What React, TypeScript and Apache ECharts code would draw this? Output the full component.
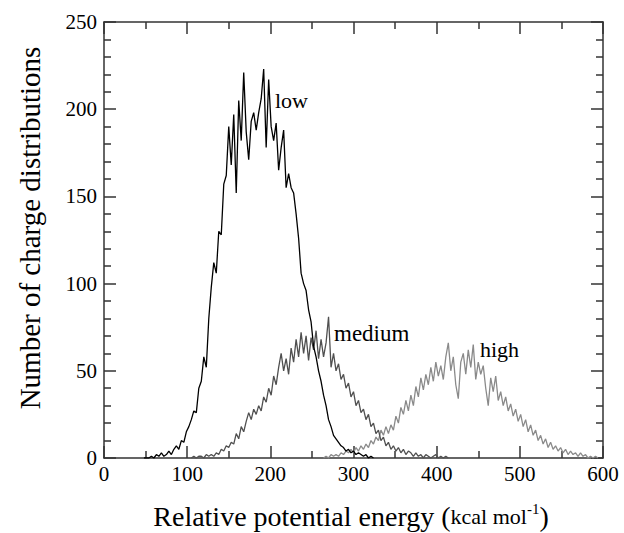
import React, { useEffect, useRef } from "react";
import * as echarts from "echarts";

// Histogram bins (kcal/mol), counts
const binStep = 3;
const lowStart = 48;
const lowCounts = [
  0, 0, 0, 1, 0, 2, 1, 3, 1, 2, 4, 2, 5, 7, 5, 10, 9, 15, 18, 22, 27, 26, 40, 44, 58, 52, 80, 98, 112, 106,
  130, 128, 157, 162, 190, 168, 197, 152, 205, 182, 221, 187, 171, 193, 198, 188, 198, 206, 223, 178, 217,
  190, 182, 192, 165, 178, 188, 155, 163, 155, 152, 140, 126, 106, 100, 96, 85, 78, 64, 58, 50, 44, 36, 30,
  22, 18, 13, 11, 9, 7, 6, 4, 5, 3, 4, 2, 3, 2, 1, 2, 0, 1, 0,
];
const mediumStart = 105;
const mediumCounts = [
  0, 1, 0, 1, 1, 0, 2, 1, 2, 1, 3, 2, 5, 4, 7, 6, 9, 8, 14, 11, 18, 15, 21, 26, 22, 28, 25, 30, 27, 35, 32,
  40, 36, 47, 42, 52, 60, 50, 57, 48, 63, 55, 68, 58, 72, 60, 70, 56, 69, 62, 73, 57, 68, 58, 66, 81, 52, 60,
  50, 54, 45, 48, 40, 43, 35, 38, 30, 33, 26, 28, 22, 25, 18, 20, 14, 16, 10, 12, 7, 9, 5, 7, 4, 6, 3, 5, 2,
  4, 3, 1, 3, 1, 2, 0, 2, 1, 0, 1, 2, 0, 1, 0, 1, 0,
];
const highStart = 264;
const highCounts = [
  0, 1, 0, 2, 1, 2, 1, 3, 2, 4, 3, 5, 3, 6, 4, 7, 5, 8, 6, 10, 8, 12, 10, 16, 13, 18, 14, 19, 16, 24, 20, 29,
  25, 33, 27, 36, 30, 41, 35, 46, 39, 48, 42, 52, 44, 55, 47, 53, 45, 58, 66, 50, 58, 42, 34, 55, 60, 48, 62,
  52, 65, 45, 55, 48, 53, 40, 30, 46, 38, 47, 33, 38, 30, 35, 27, 31, 24, 28, 21, 25, 18, 22, 15, 19, 13, 16,
  10, 13, 8, 11, 6, 9, 5, 7, 4, 6, 3, 5, 2, 4, 2, 3, 1, 3, 1, 2, 0, 1, 0, 1, 0,
];
const xTicks = { min: 0, max: 600, interval: 100 };
const yTicks = { min: 0, max: 250, interval: 50 };
const seriesLabels = ["low", "medium", "high"];

const SERIF = "'Liberation Serif', 'Times New Roman', serif";

const toPairs = (start: number, counts: number[]) => counts.map((c, i) => [start + i * binStep, c]);

export default function App() {
  const ref = useRef<HTMLDivElement>(null);
  useEffect(() => {
    if (!ref.current) return;
    const chart = echarts.init(ref.current, undefined, { renderer: "svg" });
    const axisColor = "#333";
    const lineStyle = { color: axisColor, width: 1.5 };
    const xBase = {
      type: "value" as const,
      min: xTicks.min,
      max: xTicks.max,
      interval: xTicks.interval,
      splitLine: { show: false },
      axisLine: { show: true, onZero: false, lineStyle },
      axisTick: { show: true, inside: true, length: 12, lineStyle },
      minorTick: { show: true, splitNumber: 2, length: 7, lineStyle },
      minorSplitLine: { show: false },
    };
    const yBase = {
      type: "value" as const,
      min: yTicks.min,
      max: yTicks.max,
      interval: yTicks.interval,
      splitLine: { show: false },
      axisLine: { show: true, onZero: false, lineStyle },
      axisTick: { show: true, inside: true, length: 12, lineStyle },
      minorTick: { show: true, splitNumber: 5, length: 7, lineStyle },
      minorSplitLine: { show: false },
    };
    const mkSeries = (name: string, start: number, counts: number[], color: string, width: number) => ({
      name,
      type: "line" as const,
      data: toPairs(start, counts),
      showSymbol: false,
      symbol: "none",
      lineStyle: { color, width },
      xAxisIndex: 0,
      yAxisIndex: 0,
      z: 3,
    });
    chart.setOption({
      animation: false,
      backgroundColor: "#fff",
      grid: { left: 104, right: 21, top: 22, bottom: 75, containLabel: false },
      xAxis: [
        {
          ...xBase,
          position: "bottom",
          axisLabel: { show: true, color: "#000", fontFamily: SERIF, fontSize: 21, margin: 5 },
        },
        { ...xBase, position: "top", axisLabel: { show: false } },
      ],
      yAxis: [
        {
          ...yBase,
          position: "left",
          axisLabel: { show: true, color: "#000", fontFamily: SERIF, fontSize: 21, margin: 7 },
        },
        { ...yBase, position: "right", axisLabel: { show: false } },
      ],
      series: [
        mkSeries(seriesLabels[2], highStart, highCounts, "#8a8a8a", 1.3),
        mkSeries(seriesLabels[1], mediumStart, mediumCounts, "#505050", 1.3),
        mkSeries(seriesLabels[0], lowStart, lowCounts, "#000", 1.3),
      ],
      graphic: [
        {
          type: "text",
          left: 275,
          top: 89,
          style: { text: seriesLabels[0], font: `22px ${SERIF}`, fill: "#000" },
        },
        {
          type: "text",
          left: 334,
          top: 322,
          style: { text: seriesLabels[1], font: `23px ${SERIF}`, fill: "#000" },
        },
        {
          type: "text",
          left: 480,
          top: 338,
          style: { text: seriesLabels[2], font: `22px ${SERIF}`, fill: "#000" },
        },
        {
          type: "text",
          x: 30,
          y: 228,
          rotation: Math.PI / 2,
          style: {
            text: "Number of charge distributions",
            font: `29px ${SERIF}`,
            fill: "#000",
            align: "center",
            verticalAlign: "middle",
          },
        },
        {
          type: "text",
          x: 351,
          y: 516,
          style: {
            text: "{a|Relative potential energy }{b|(}{c|kcal mol}{s|-1}{b|)}",
            align: "center",
            verticalAlign: "middle",
            fill: "#000",
            rich: {
              a: { font: `28px ${SERIF}`, fill: "#000", lineHeight: 30 },
              b: { font: `28px ${SERIF}`, fill: "#000", lineHeight: 30 },
              c: { font: `22px ${SERIF}`, fill: "#000", lineHeight: 30 },
              s: { font: `15px ${SERIF}`, fill: "#000", lineHeight: 30, verticalAlign: "top" },
            },
          },
        },
      ],
    });
    return () => chart.dispose();
  }, []);
  return (
    <div
      ref={ref}
      style={{ position: "fixed", left: 0, top: 0, width: 624, height: 533, background: "#fff" }}
    />
  );
}
